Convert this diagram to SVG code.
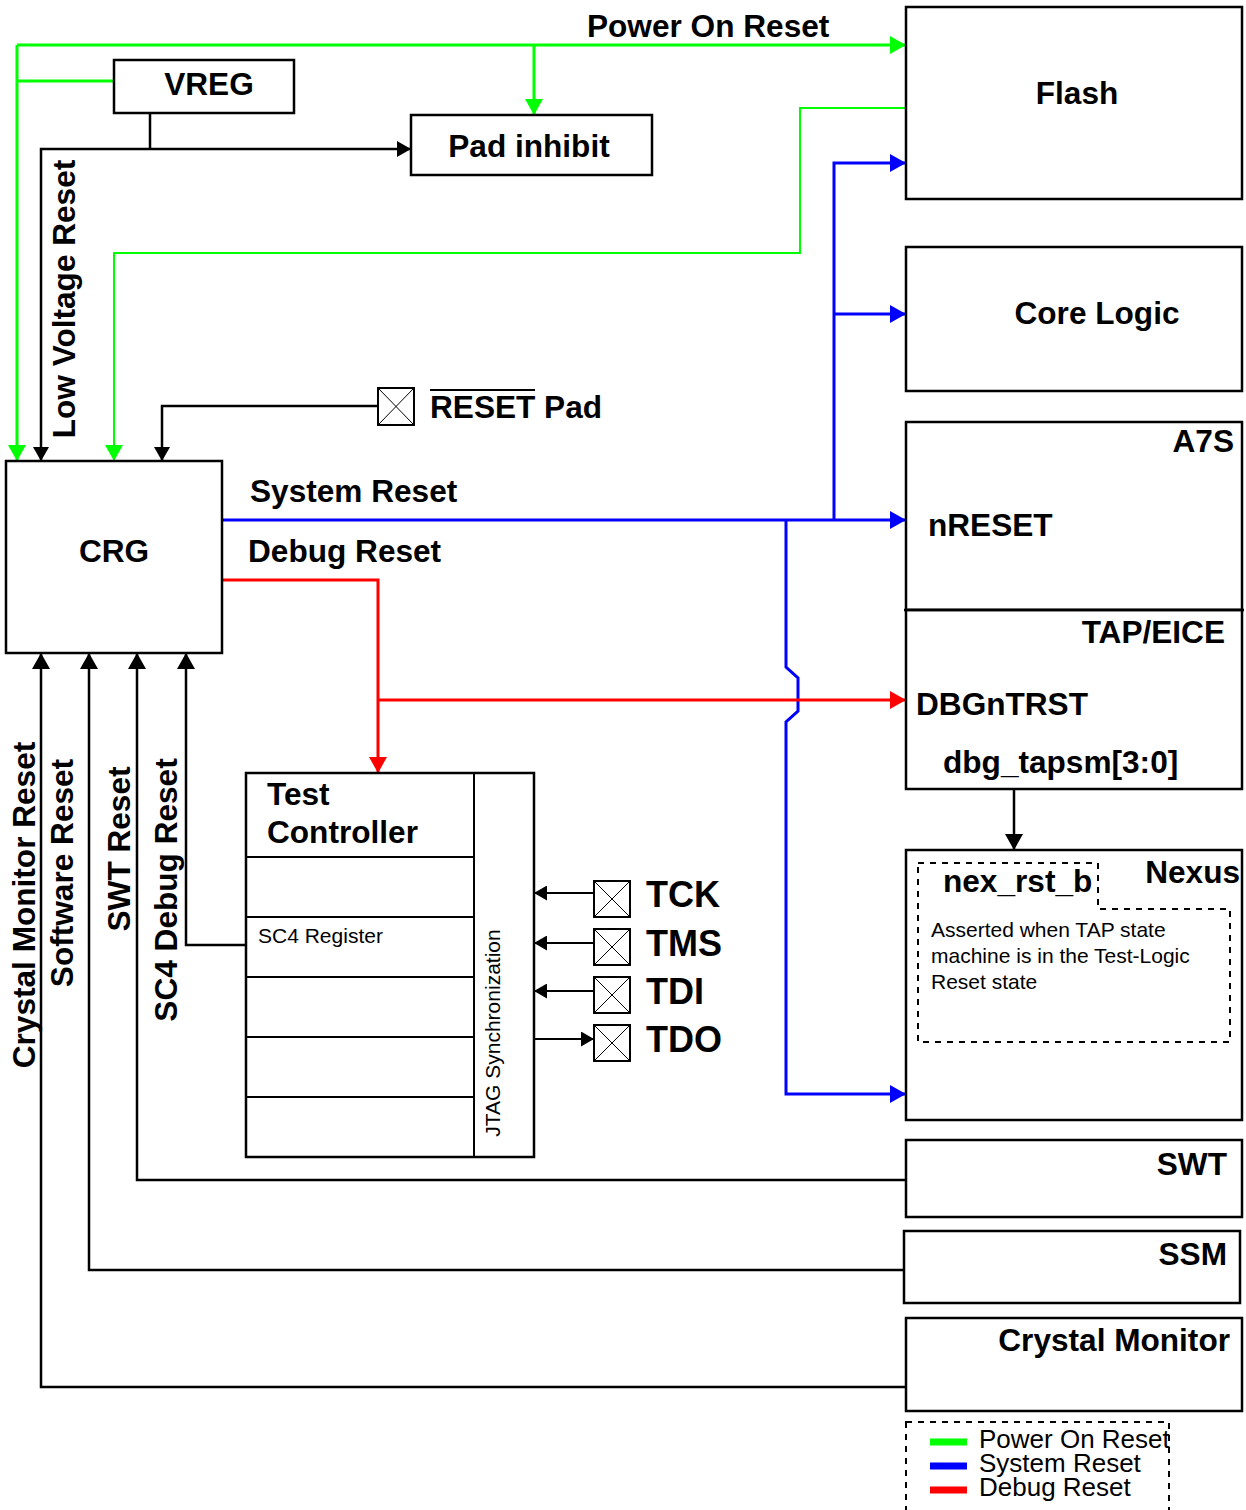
<svg xmlns="http://www.w3.org/2000/svg" width="1246" height="1510" viewBox="0 0 1246 1510">
<style>
.box{fill:#fff;stroke:#000;stroke-width:2.5}
.thin{fill:none;stroke:#000;stroke-width:2}
.x{fill:none;stroke:#000;stroke-width:1}
.dash{fill:none;stroke:#000;stroke-width:2;stroke-dasharray:6 6}
.b{font-family:"Liberation Sans",Arial,sans-serif;font-weight:bold;font-size:31.6px;fill:#000}
.pin{font-family:"Liberation Sans",Arial,sans-serif;font-weight:bold;font-size:36px;fill:#000}
.r{font-family:"Liberation Sans",Arial,sans-serif;font-size:21px;fill:#000}
.leg{font-family:"Liberation Sans",Arial,sans-serif;font-size:26px;fill:#000}
.g{fill:none;stroke:#00ff00;stroke-width:3}
.g2{fill:none;stroke:#00ff00;stroke-width:2}
.bl{fill:none;stroke:#0000ff;stroke-width:3}
.rd{fill:none;stroke:#ff0000;stroke-width:3}
.k{fill:none;stroke:#000;stroke-width:2.5}
.k2{fill:none;stroke:#000;stroke-width:2}
</style>
<defs>
<marker id="ag" viewBox="0 0 16 18" refX="16" refY="9" markerWidth="16" markerHeight="18" markerUnits="userSpaceOnUse" orient="auto"><path d="M0,0 L16,9 L0,18 Z" fill="#00ff00"/></marker>
<marker id="ab" viewBox="0 0 16 18" refX="16" refY="9" markerWidth="16" markerHeight="18" markerUnits="userSpaceOnUse" orient="auto"><path d="M0,0 L16,9 L0,18 Z" fill="#0000ff"/></marker>
<marker id="ar" viewBox="0 0 16 18" refX="16" refY="9" markerWidth="16" markerHeight="18" markerUnits="userSpaceOnUse" orient="auto"><path d="M0,0 L16,9 L0,18 Z" fill="#ff0000"/></marker>
<marker id="ak" viewBox="0 0 14 16" refX="14" refY="8" markerWidth="14" markerHeight="16" markerUnits="userSpaceOnUse" orient="auto"><path d="M0,0 L14,8 L0,16 Z" fill="#000"/></marker>
<marker id="akl" viewBox="0 0 16 18" refX="16" refY="9" markerWidth="16" markerHeight="18" markerUnits="userSpaceOnUse" orient="auto"><path d="M0,0 L16,9 L0,18 Z" fill="#000"/></marker>
<marker id="aks" viewBox="0 0 13 15" refX="13" refY="7.5" markerWidth="13" markerHeight="15" markerUnits="userSpaceOnUse" orient="auto"><path d="M0,0 L13,7.5 L0,15 Z" fill="#000"/></marker>
</defs>
<rect width="1246" height="1510" fill="#fff"/>

<g id="connectors">
  <path class="g" d="M17,45 H906" marker-end="url(#ag)"/>
  <path class="g" d="M17,45 V461" marker-end="url(#ag)"/>
  <path class="g" d="M17,81 H114"/>
  <path class="g" d="M534,45 V115" marker-end="url(#ag)"/>
  <path class="g2" d="M906,108 H800 V253 H114 V461" marker-end="url(#ag)"/>
  <path class="k" d="M150,113 V149"/>
  <path class="k" d="M150,149 H411" marker-end="url(#ak)"/>
  <path class="k" d="M150,149 H41 V461" marker-end="url(#ak)"/>
  <path class="k" d="M378,406 H162 V461" marker-end="url(#ak)"/>
  <path class="bl" d="M222,520 H906" marker-end="url(#ab)"/>
  <path class="bl" d="M834,520 V163 H906" marker-end="url(#ab)"/>
  <path class="bl" d="M834,314 H906" marker-end="url(#ab)"/>
  <path class="bl" d="M786,520 V667 L798,678 V711 L786,722 V1094 H906" marker-end="url(#ab)"/>
  <path class="rd" d="M222,580 H378 V773" marker-end="url(#ar)"/>
  <path class="rd" d="M378,700 H906" marker-end="url(#ar)"/>
  <path class="k" d="M1014,790 V850" marker-end="url(#akl)"/>
  <path class="k" d="M246,945 H186 V653" marker-end="url(#akl)"/>
  <path class="k" d="M906,1180 H137 V653" marker-end="url(#akl)"/>
  <path class="k" d="M906,1270 H89 V653" marker-end="url(#akl)"/>
  <path class="k" d="M906,1387 H41 V653" marker-end="url(#akl)"/>
  <path class="k2" d="M594,893 H534" marker-end="url(#aks)"/>
  <path class="k2" d="M594,943 H534" marker-end="url(#aks)"/>
  <path class="k2" d="M594,991 H534" marker-end="url(#aks)"/>
  <path class="k2" d="M534,1039 H594" marker-end="url(#aks)"/>
</g>

<g id="vreg">
  <rect class="box" x="114" y="60" width="180" height="53"/>
  <text class="b" x="209" y="95" text-anchor="middle">VREG</text>
</g>
<g id="pad-inhibit">
  <rect class="box" x="411" y="115" width="241" height="60"/>
  <text class="b" x="529" y="157" text-anchor="middle">Pad inhibit</text>
</g>
<text class="b" x="587" y="37">Power On Reset</text>
<text class="b" transform="translate(75,299) rotate(-90)" text-anchor="middle">Low Voltage Reset</text>

<g id="flash">
  <rect class="box" x="906" y="7" width="336" height="192"/>
  <text class="b" x="1077" y="104" text-anchor="middle">Flash</text>
</g>
<g id="core-logic">
  <rect class="box" x="906" y="247" width="336" height="144"/>
  <text class="b" x="1097" y="324" text-anchor="middle">Core Logic</text>
</g>
<g id="a7s">
  <rect class="box" x="906" y="422" width="336" height="188"/>
  <text class="b" x="1234" y="452" text-anchor="end">A7S</text>
  <text class="b" x="928" y="536">nRESET</text>
</g>
<g id="tap-eice">
  <rect class="box" x="906" y="610" width="336" height="179"/>
  <line x1="904" y1="610" x2="1244" y2="610" stroke="#000" stroke-width="2.5"/>
  <text class="b" x="1225" y="643" text-anchor="end">TAP/EICE</text>
  <text class="b" x="916" y="715">DBGnTRST</text>
  <text class="b" x="943" y="773">dbg_tapsm[3:0]</text>
</g>
<g id="nexus">
  <rect class="box" x="906" y="850" width="336" height="270"/>
  <path class="dash" d="M918,863 H1098 V909 H1230 V1042 H918 Z"/>
  <text class="b" x="1240" y="883" text-anchor="end">Nexus</text>
  <text class="b" x="943" y="892">nex_rst_b</text>
  <text class="r" x="931" y="937">Asserted when TAP state</text>
  <text class="r" x="931" y="963">machine is in the Test-Logic</text>
  <text class="r" x="931" y="989">Reset state</text>
</g>
<g id="swt">
  <rect class="box" x="906" y="1140" width="336" height="77"/>
  <text class="b" x="1227" y="1175" text-anchor="end">SWT</text>
</g>
<g id="ssm">
  <rect class="box" x="904" y="1231" width="336" height="72"/>
  <text class="b" x="1227" y="1265" text-anchor="end">SSM</text>
</g>
<g id="crystal-monitor">
  <rect class="box" x="906" y="1318" width="336" height="93"/>
  <text class="b" x="1230" y="1351" text-anchor="end">Crystal Monitor</text>
</g>

<g id="crg">
  <rect class="box" x="6" y="461" width="216" height="192"/>
  <text class="b" x="114" y="562" text-anchor="middle">CRG</text>
</g>
<text class="b" x="250" y="502">System Reset</text>
<text class="b" x="248" y="562">Debug Reset</text>

<g id="reset-pad">
  <rect class="thin" x="378" y="388" width="36" height="37"/>
  <path class="x" d="M378,388 L414,425 M414,388 L378,425"/>
  <text class="b" x="430" y="418">RESET Pad</text>
  <line x1="430" y1="390" x2="535" y2="390" stroke="#000" stroke-width="2"/>
</g>

<text class="b" transform="translate(35,905) rotate(-90)" text-anchor="middle">Crystal Monitor Reset</text>
<text class="b" transform="translate(73,873) rotate(-90)" text-anchor="middle">Software Reset</text>
<text class="b" transform="translate(130,849) rotate(-90)" text-anchor="middle">SWT Reset</text>
<text class="b" transform="translate(177,890) rotate(-90)" text-anchor="middle">SC4 Debug Reset</text>

<g id="test-controller">
  <rect class="box" x="246" y="773" width="288" height="384"/>
  <path class="k2" d="M474,773 V1157 M246,857 H474 M246,917 H474 M246,977 H474 M246,1037 H474 M246,1097 H474"/>
  <text class="b" x="267" y="805">Test</text>
  <text class="b" x="267" y="843">Controller</text>
  <text class="r" x="258" y="943">SC4 Register</text>
  <text class="r" transform="translate(500,1033) rotate(-90)" text-anchor="middle">JTAG Synchronization</text>
</g>

<g id="pin-tck">
  <rect class="thin" x="594" y="881" width="36" height="36"/>
  <path class="x" d="M594,881 L630,917 M630,881 L594,917"/>
  <text class="pin" x="646" y="907">TCK</text>
</g>
<g id="pin-tms">
  <rect class="thin" x="594" y="929" width="36" height="36"/>
  <path class="x" d="M594,929 L630,965 M630,929 L594,965"/>
  <text class="pin" x="646" y="956">TMS</text>
</g>
<g id="pin-tdi">
  <rect class="thin" x="594" y="977" width="36" height="36"/>
  <path class="x" d="M594,977 L630,1013 M630,977 L594,1013"/>
  <text class="pin" x="646" y="1004">TDI</text>
</g>
<g id="pin-tdo">
  <rect class="thin" x="594" y="1025" width="36" height="36"/>
  <path class="x" d="M594,1025 L630,1061 M630,1025 L594,1061"/>
  <text class="pin" x="646" y="1052">TDO</text>
</g>

<g id="legend">
  <rect class="dash" x="906" y="1422" width="263" height="100"/>
  <line x1="930" y1="1442" x2="967" y2="1442" stroke="#00ff00" stroke-width="7"/>
  <line x1="930" y1="1466" x2="967" y2="1466" stroke="#0000ff" stroke-width="7"/>
  <line x1="930" y1="1490" x2="967" y2="1490" stroke="#ff0000" stroke-width="7"/>
  <text class="leg" x="979" y="1448">Power On Reset</text>
  <text class="leg" x="979" y="1472">System Reset</text>
  <text class="leg" x="979" y="1496">Debug Reset</text>
</g>
</svg>
